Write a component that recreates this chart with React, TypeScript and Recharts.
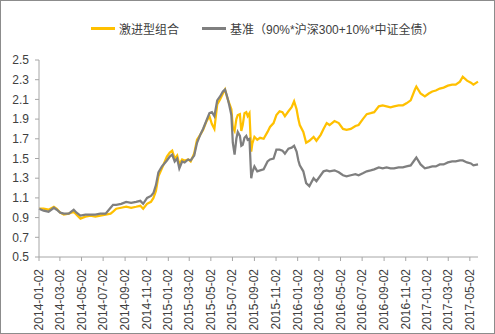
import { Legend, Line, LineChart, XAxis, YAxis } from 'recharts'

const dates = [
  '2014-01-02', '2014-01-15', '2014-01-29', '2014-02-13', '2014-02-21', '2014-03-03', '2014-03-13', '2014-03-27',
  '2014-04-10', '2014-04-18', '2014-04-29', '2014-05-13', '2014-05-27', '2014-06-10', '2014-06-24', '2014-07-09',
  '2014-07-23', '2014-07-30', '2014-08-08', '2014-08-22', '2014-09-05', '2014-09-19', '2014-10-03', '2014-10-15',
  '2014-10-23', '2014-11-03', '2014-11-14', '2014-11-21', '2014-11-28', '2014-12-05', '2014-12-15', '2014-12-22',
  '2014-12-29', '2015-01-06', '2015-01-13', '2015-01-20', '2015-01-27', '2015-02-02', '2015-02-10', '2015-02-17',
  '2015-02-27', '2015-03-06', '2015-03-16', '2015-03-24', '2015-04-02', '2015-04-10', '2015-04-20', '2015-04-28',
  '2015-05-05', '2015-05-12', '2015-05-20', '2015-05-28', '2015-06-05', '2015-06-11', '2015-06-17', '2015-06-23',
  '2015-06-29', '2015-07-03', '2015-07-08', '2015-07-13', '2015-07-17', '2015-07-23', '2015-07-27', '2015-07-31',
  '2015-08-05', '2015-08-10', '2015-08-14', '2015-08-19', '2015-08-24', '2015-08-27', '2015-09-02', '2015-09-10',
  '2015-09-18', '2015-09-28', '2015-10-09', '2015-10-16', '2015-10-26', '2015-11-03', '2015-11-12', '2015-11-20',
  '2015-11-27', '2015-12-07', '2015-12-16', '2015-12-23', '2015-12-30', '2016-01-04', '2016-01-08', '2016-01-18',
  '2016-01-26', '2016-02-04', '2016-02-16', '2016-02-24', '2016-03-07', '2016-03-15', '2016-03-24', '2016-04-01',
  '2016-04-15', '2016-04-27', '2016-05-09', '2016-05-19', '2016-05-31', '2016-06-13', '2016-06-22', '2016-07-04',
  '2016-07-15', '2016-07-26', '2016-08-05', '2016-08-18', '2016-08-29', '2016-09-09', '2016-09-20', '2016-09-30',
  '2016-10-13', '2016-10-25', '2016-11-04', '2016-11-16', '2016-11-28', '2016-12-02', '2016-12-14', '2016-12-26',
  '2017-01-06', '2017-01-16', '2017-01-26', '2017-02-06', '2017-02-17', '2017-03-01', '2017-03-13', '2017-03-23',
  '2017-04-04', '2017-04-12', '2017-04-24', '2017-05-05', '2017-05-12', '2017-05-25',
]

// 激进型组合
const aggressive = [
  0.99, 0.99, 0.98, 1.01, 0.99, 0.95, 0.93, 0.94,
  0.96, 0.93, 0.89, 0.91, 0.92, 0.91, 0.92, 0.93,
  0.94, 0.96, 0.99, 1.0, 1.01, 1.0, 1.01, 1.02,
  0.99, 1.04, 1.06, 1.1, 1.17, 1.32, 1.4, 1.46,
  1.52, 1.56, 1.58, 1.5, 1.53, 1.44, 1.49, 1.48,
  1.49, 1.47, 1.55, 1.69, 1.74, 1.79, 1.88, 1.93,
  1.85, 1.8, 2.05, 2.1, 2.16, 2.2, 2.12, 2.06,
  2.0, 1.82, 1.78, 1.9, 1.94, 1.95, 1.78, 1.84,
  1.96, 1.97, 1.93, 1.96, 1.57, 1.65, 1.72, 1.69,
  1.71, 1.7, 1.77, 1.82, 1.86, 1.94, 1.98, 1.97,
  1.93, 1.98, 2.02, 2.08, 2.0, 1.9, 1.84, 1.77,
  1.66, 1.68, 1.72, 1.68, 1.74, 1.8, 1.86, 1.84,
  1.88, 1.86, 1.8, 1.79, 1.8, 1.83, 1.84, 1.9,
  1.95, 1.96, 1.97, 2.03, 2.04, 2.03, 2.02, 2.03,
  2.04, 2.04, 2.06, 2.09, 2.2, 2.23, 2.16, 2.13,
  2.16, 2.18, 2.19, 2.21, 2.22, 2.24, 2.25, 2.25,
  2.28, 2.33, 2.29, 2.27, 2.25, 2.28,
]

// 基准（90%*沪深300+10%*中证全债）
const benchmark = [
  0.99, 0.97, 0.96, 1.0, 0.98, 0.95, 0.94, 0.94,
  0.98, 0.95, 0.92, 0.93, 0.93, 0.93, 0.94, 0.94,
  1.0, 1.03, 1.03, 1.04, 1.06, 1.05, 1.06, 1.07,
  1.04, 1.1, 1.12, 1.15, 1.23, 1.36, 1.42, 1.45,
  1.48, 1.52, 1.54, 1.47, 1.5, 1.4, 1.47, 1.46,
  1.49, 1.48, 1.53, 1.66, 1.74, 1.8, 1.89, 1.96,
  1.97, 1.93, 2.09, 2.13, 2.18, 2.2, 2.13, 2.04,
  1.94, 1.66, 1.54, 1.7, 1.77, 1.73, 1.63, 1.64,
  1.71, 1.73, 1.69, 1.7, 1.3, 1.36, 1.42, 1.37,
  1.38, 1.39, 1.47, 1.49, 1.5, 1.59, 1.59, 1.58,
  1.55, 1.6, 1.61, 1.63, 1.57, 1.48, 1.43, 1.37,
  1.25, 1.22, 1.3, 1.27, 1.33, 1.37, 1.38, 1.37,
  1.38, 1.36, 1.33, 1.32, 1.33, 1.34, 1.33, 1.35,
  1.37, 1.38, 1.39, 1.41, 1.4, 1.41, 1.4, 1.4,
  1.41, 1.41, 1.42, 1.43, 1.49, 1.51, 1.44, 1.4,
  1.41, 1.42, 1.42, 1.44, 1.44, 1.46, 1.47, 1.47,
  1.48, 1.48, 1.46, 1.45, 1.43, 1.44,
]

const tickDates = [
  '2014-01-02', '2014-03-02', '2014-05-02', '2014-07-02', '2014-09-02', '2014-11-02', '2015-01-02',
  '2015-03-02', '2015-05-02', '2015-07-02', '2015-09-02', '2015-11-02', '2016-01-02', '2016-03-02',
  '2016-05-02', '2016-07-02', '2016-09-02', '2016-11-02', '2017-01-02', '2017-03-02', '2017-05-02',
]

const yTicks = [0.5, 0.7, 0.9, 1.1, 1.3, 1.5, 1.7, 1.9, 2.1, 2.3, 2.5]

const toTime = (d: string) => Date.parse(d + 'T00:00:00Z')

const fmtDate = (t: number) => new Date(t).toISOString().slice(0, 10)

const data = dates.map((d, i) => ({
  t: toTime(d),
  aggressive: aggressive[i],
  benchmark: benchmark[i],
}))

const YELLOW = '#FFC000'
const GRAY = '#7F7F7F'
const AXIS = '#A6A6A6'
const TEXT = '#404040'
const FONT = '"Liberation Sans", "Noto Sans CJK SC", sans-serif'

function DateTick({ x, y, payload }: any) {
  return (
    <text
      x={x}
      y={y + 6}
      transform={`rotate(-90 ${x} ${y + 6})`}
      textAnchor="end"
      dominantBaseline="central"
      fontSize={12}
      fontFamily={FONT}
      fill={TEXT}
    >
      {fmtDate(payload.value)}
    </text>
  )
}

function LegendContent() {
  const items = [
    { label: '激进型组合', color: YELLOW },
    { label: '基准（90%*沪深300+10%*中证全债）', color: GRAY },
  ]
  return (
    <div style={{ display: 'flex', alignItems: 'center', height: 16, fontFamily: FONT, fontSize: 12, color: TEXT }}>
      {items.map((it, i) => (
        <div key={it.label} style={{ display: 'flex', alignItems: 'center', marginLeft: i === 0 ? 0 : 23 }}>
          <span style={{ display: 'inline-block', width: 24, height: 3, background: it.color, marginRight: 4 }} />
          <span style={{ whiteSpace: 'nowrap' }}>{it.label}</span>
        </div>
      ))}
    </div>
  )
}

export default function App() {
  return (
    <div
      style={{
        position: 'absolute',
        left: 0,
        top: 0,
        width: 495,
        height: 334,
        boxSizing: 'border-box',
        border: '1px solid #8c8c8c',
        background: '#fff',
      }}
    >
      <LineChart width={493} height={332} data={data} margin={{ top: 43, right: 16, bottom: 6, left: 0 }}>
        <Legend
          verticalAlign="top"
          content={<LegendContent />}
          wrapperStyle={{ top: 19, left: 90, width: 360, height: 16 }}
        />
        <XAxis
          dataKey="t"
          type="number"
          scale="time"
          domain={[toTime('2014-01-02'), toTime('2017-05-25')]}
          ticks={tickDates.map(toTime)}
          tick={<DateTick />}
          height={70}
          stroke={AXIS}
          tickSize={4}
          interval={0}
        />
        <YAxis
          type="number"
          domain={[0.5, 2.5]}
          ticks={yTicks}
          width={38}
          stroke={AXIS}
          tickSize={4}
          tickMargin={6}
          tickFormatter={(v: number) => v.toFixed(1)}
          tick={{ fontSize: 12, fontFamily: FONT, fill: TEXT }}
          interval={0}
        />
        <Line
          type="linear"
          dataKey="aggressive"
          stroke={YELLOW}
          strokeWidth={2.25}
          dot={false}
          isAnimationActive={false}
        />
        <Line
          type="linear"
          dataKey="benchmark"
          stroke={GRAY}
          strokeWidth={2.25}
          dot={false}
          isAnimationActive={false}
        />
      </LineChart>
    </div>
  )
}
